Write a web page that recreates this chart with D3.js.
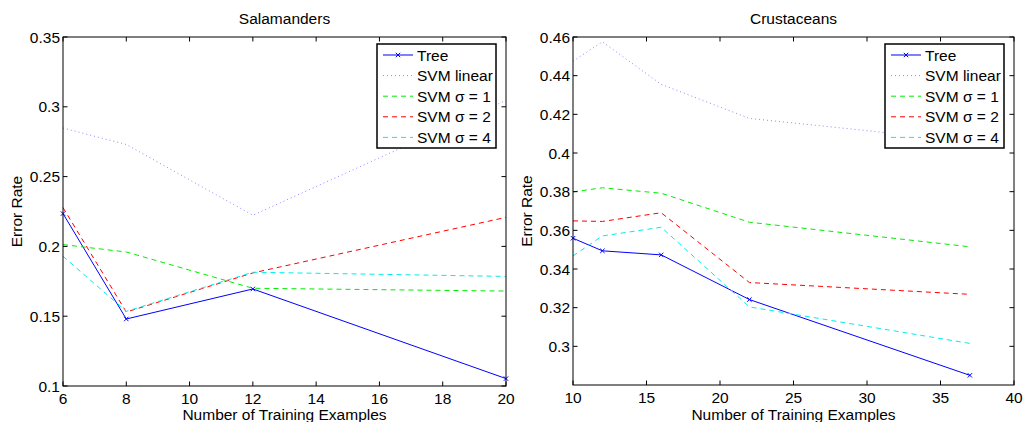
<!DOCTYPE html>
<html>
<head>
<meta charset="utf-8">
<script src="https://cdn.jsdelivr.net/npm/d3@7"></script>
<style>
  body { margin: 0; background: #fff; }
  svg { display: block; font-family: "Liberation Sans", Arial, sans-serif; }
</style>
</head>
<body>
<svg id="chart" width="1024" height="422"></svg>
<script>
// series names shared by both panels
const seriesNames = ['Tree', 'SVM linear', 'SVM \u03c3 = 1', 'SVM \u03c3 = 2', 'SVM \u03c3 = 4'];

// Salamanders panel
const salX = [6, 8, 12, 20];
const salTree = [0.2235, 0.148, 0.1695, 0.1053];
const salLinear = [0.2848, 0.273, 0.2223, 0.3046];
const salSigma1 = [0.2013, 0.196, 0.170, 0.168];
const salSigma2 = [0.2278, 0.153, 0.181, 0.2208];
const salSigma4 = [0.1929, 0.1535, 0.1815, 0.1785];
const salXTicks = [6, 8, 10, 12, 14, 16, 18, 20];
const salYTicks = [0.1, 0.15, 0.2, 0.25, 0.3, 0.35];

// Crustaceans panel
const crusX = [10, 12, 16, 22, 37];
const crusTree = [0.3559, 0.3494, 0.3473, 0.3242, 0.285];
const crusLinear = [0.4475, 0.4575, 0.4355, 0.4179, 0.406];
const crusSigma1 = [0.3799, 0.382, 0.3792, 0.3642, 0.3515];
const crusSigma2 = [0.3649, 0.3646, 0.3691, 0.333, 0.3269];
const crusSigma4 = [0.3468, 0.3571, 0.3616, 0.3204, 0.3015];
const crusXTicks = [10, 15, 20, 25, 30, 35, 40];
const crusYTicks = [0.3, 0.32, 0.34, 0.36, 0.38, 0.4, 0.42, 0.44, 0.46];

// line styles per series
const styles = [
    { color: '#0000ff', dash: null, marker: true },
    { color: '#8a8aff', dash: '1,3', marker: false },
    { color: '#00ee00', dash: '5,4', marker: false },
    { color: '#ff0000', dash: '5,4', marker: false },
    { color: '#00eeee', dash: '5,4', marker: false }
];

const svg = d3.select('#chart');
const fontSize = 15.5;

function xMark(sel, cx, cy, r, color) {
    sel.append('path')
        .attr('d', `M${cx - r},${cy - r}L${cx + r},${cy + r}M${cx - r},${cy + r}L${cx + r},${cy - r}`)
        .attr('stroke', color)
        .attr('stroke-width', 1);
}

function drawPanel(opts) {
    const { left, right, top, bottom, xDomain, yDomain, xs, series, xTicks, yTicks, title } = opts;
    const x = d3.scaleLinear().domain(xDomain).range([left, right]);
    const y = d3.scaleLinear().domain(yDomain).range([bottom, top]);
    const g = svg.append('g');
    const fmt = d => String(+d.toFixed(2));
    const tick = 4.5;

    // data lines
    const line = d3.line().x(d => x(d[0])).y(d => y(d[1]));
    series.forEach((vals, i) => {
        const pts = xs.map((xv, j) => [xv, vals[j]]);
        const st = styles[i];
        g.append('path')
            .attr('d', line(pts))
            .attr('fill', 'none')
            .attr('stroke', st.color)
            .attr('stroke-width', 1)
            .attr('stroke-dasharray', st.dash);
        if (st.marker) {
            pts.forEach(p => xMark(g, x(p[0]), y(p[1]), 2.2, st.color));
        }
    });

    // box with inward ticks on all sides
    g.append('rect')
        .attr('x', left).attr('y', top)
        .attr('width', right - left).attr('height', bottom - top)
        .attr('fill', 'none').attr('stroke', '#000').attr('stroke-width', 1);

    xTicks.forEach(t => {
        const px = x(t);
        g.append('line').attr('x1', px).attr('x2', px).attr('y1', bottom).attr('y2', bottom - tick).attr('stroke', '#000');
        g.append('line').attr('x1', px).attr('x2', px).attr('y1', top).attr('y2', top + tick).attr('stroke', '#000');
        g.append('text')
            .attr('x', px).attr('y', bottom + 18)
            .attr('text-anchor', 'middle')
            .style('font-size', fontSize + 'px')
            .text(t);
    });
    yTicks.forEach(t => {
        const py = y(t);
        g.append('line').attr('x1', left).attr('x2', left + tick).attr('y1', py).attr('y2', py).attr('stroke', '#000');
        g.append('line').attr('x1', right).attr('x2', right - tick).attr('y1', py).attr('y2', py).attr('stroke', '#000');
        g.append('text')
            .attr('x', left - 3).attr('y', py)
            .attr('dy', '0.36em')
            .attr('text-anchor', 'end')
            .style('font-size', fontSize + 'px')
            .text(fmt(t));
    });

    // titles
    g.append('text')
        .attr('x', (left + right) / 2).attr('y', 24)
        .attr('text-anchor', 'middle')
        .style('font-size', fontSize + 'px')
        .text(title);
    g.append('text')
        .attr('x', (left + right) / 2).attr('y', 420)
        .attr('text-anchor', 'middle')
        .style('font-size', fontSize + 'px')
        .text('Number of Training Examples');
    g.append('text')
        .attr('transform', `translate(${left - 46.5},${(top + bottom) / 2}) rotate(-90)`)
        .attr('text-anchor', 'middle')
        .attr('dy', '0.36em')
        .style('font-size', fontSize + 'px')
        .text('Error Rate');

    // legend
    const lx = right - 129, ly = top + 7, lw = 119, lh = 104;
    const leg = g.append('g');
    leg.append('rect')
        .attr('x', lx).attr('y', ly).attr('width', lw).attr('height', lh)
        .attr('fill', '#fff').attr('stroke', '#000').attr('stroke-width', 1.5);
    seriesNames.forEach((name, i) => {
        const st = styles[i];
        const ry = ly + 11 + i * 20.6;
        leg.append('line')
            .attr('x1', lx + 6).attr('x2', lx + 36)
            .attr('y1', ry).attr('y2', ry)
            .attr('stroke', st.color)
            .attr('stroke-dasharray', st.dash);
        if (st.marker) xMark(leg, lx + 21, ry, 2.2, st.color);
        leg.append('text')
            .attr('x', lx + 40).attr('y', ry)
            .attr('dy', '0.36em')
            .style('font-size', fontSize + 'px')
            .text(name);
    });
}

drawPanel({
    left: 63, right: 506, top: 37, bottom: 386,
    xDomain: [6, 20], yDomain: [0.1, 0.35],
    xs: salX,
    series: [salTree, salLinear, salSigma1, salSigma2, salSigma4],
    xTicks: salXTicks, yTicks: salYTicks,
    title: 'Salamanders'
});

drawPanel({
    left: 573, right: 1014, top: 37, bottom: 385,
    xDomain: [10, 40], yDomain: [0.28, 0.46],
    xs: crusX,
    series: [crusTree, crusLinear, crusSigma1, crusSigma2, crusSigma4],
    xTicks: crusXTicks, yTicks: crusYTicks,
    title: 'Crustaceans'
});
</script>
</body>
</html>
